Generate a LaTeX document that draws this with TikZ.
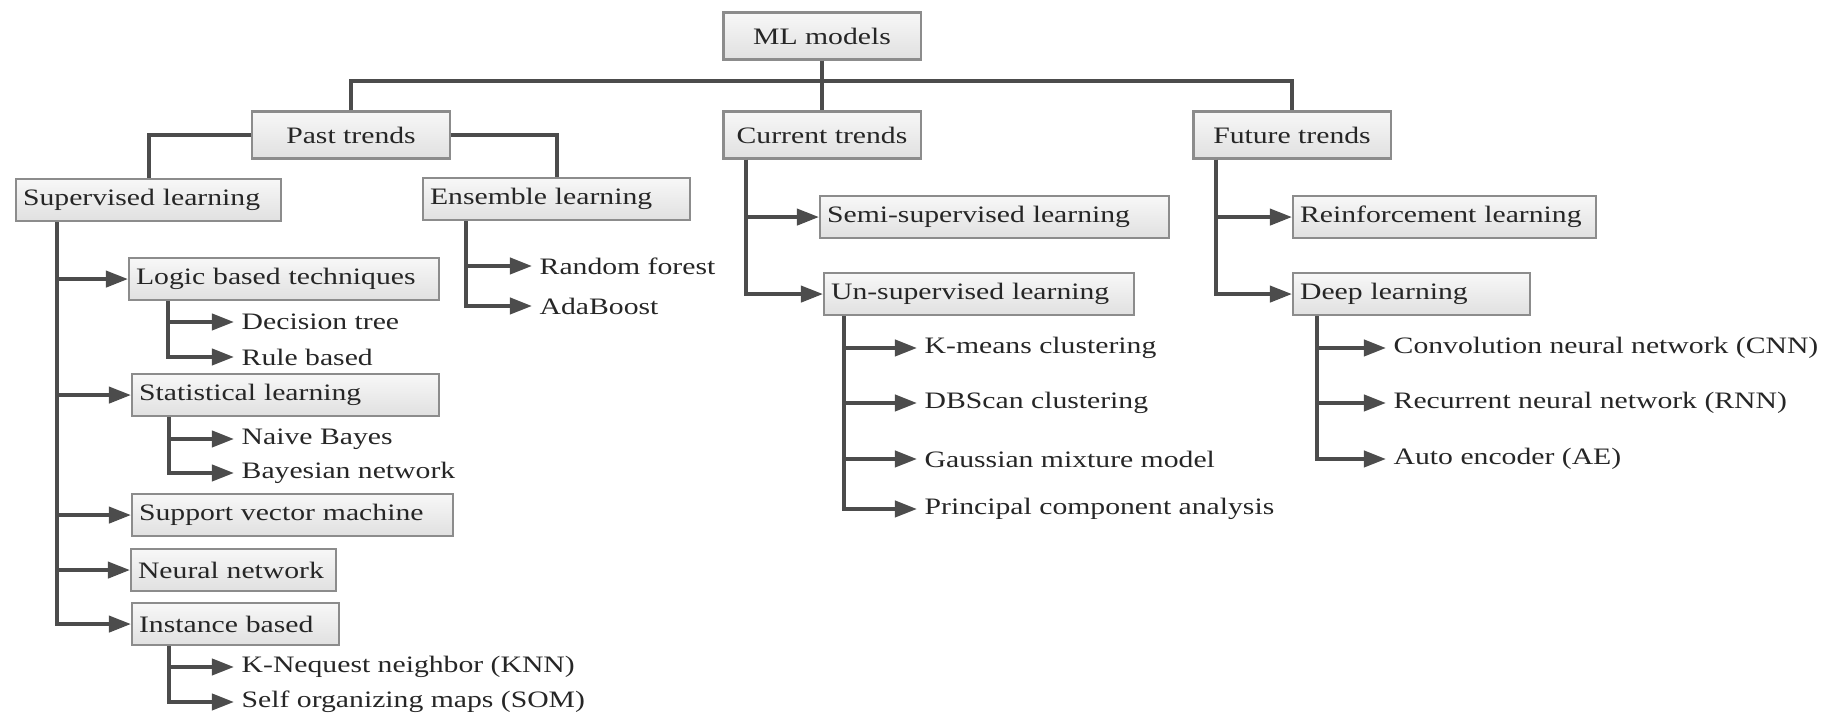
\documentclass[tikz,border=0pt]{standalone}
\usepackage{fontspec}
\setmainfont{Liberation Serif}[FakeStretch=1.26]
\usepackage{tikz}
\usetikzlibrary{shapes,arrows.meta,positioning}

\begin{document}
\begin{tikzpicture}[x=0.01cm,y=-0.01cm,>={Triangle[length=0.22cm,width=0.16cm]},font=\fontsize{6.7}{8}\selectfont,
  box/.style={draw=black!45,line width=0.6pt,top color=black!3,bottom color=black!12,text=black!85,inner xsep=0.07cm,inner ysep=0pt,minimum height=0.42cm},
  trend/.style={box,minimum width=1.97cm,minimum height=0.47cm},
  lbox/.style={box,anchor=north west,align=left,text width=#1},
  leaf/.style={anchor=west,inner xsep=0.07cm,text=black!85},
  link/.style={draw=black!70,line width=1.1pt}]
  \useasboundingbox (0,0) rectangle (1832,713);
  \node[trend] (ML) at (822,36) {ML models};
  \node[trend] (PT) at (351,135) {Past trends};
  \node[trend] (CT) at (822,135) {Current trends};
  \node[trend] (FT) at (1292,135) {Future trends};
  \node[lbox=2.51cm] (SL) at (15,178) {Supervised learning};
  \node[lbox=2.53cm] (EL) at (422,177) {Ensemble learning};
  \node[lbox=2.96cm] (LB) at (128,257) {Logic based techniques};
  \node[lbox=2.93cm] (ST) at (131,373) {Statistical learning};
  \node[lbox=3.07cm] (SV) at (131,493) {Support vector machine};
  \node[lbox=1.91cm] (NN) at (130,548) {Neural network};
  \node[lbox=1.93cm] (IB) at (131,602) {Instance based};
  \node[lbox=3.35cm] (SS) at (819,195) {Semi-supervised learning};
  \node[lbox=2.96cm] (US) at (823,272) {Un-supervised learning};
  \node[lbox=2.89cm] (RL) at (1292,195) {Reinforcement learning};
  \node[lbox=2.23cm] (DL) at (1292,272) {Deep learning};
  \node[leaf] (DT) at (234,322) {Decision tree};
  \node[leaf] (RB) at (234,357) {Rule based};
  \node[leaf] (NB) at (234,439) {Naive Bayes};
  \node[leaf] (BN) at (234,473) {Bayesian network};
  \node[leaf] (KNN) at (234,667) {K-Nequest neighbor (KNN)};
  \node[leaf] (SOM) at (234,702) {Self organizing maps (SOM)};
  \node[leaf] (RF) at (532,266) {Random forest};
  \node[leaf] (AB) at (532,306) {AdaBoost};
  \node[leaf] (KM) at (917,348) {K-means clustering};
  \node[leaf] (DB) at (917,403) {DBScan clustering};
  \node[leaf] (GM) at (917,459) {Gaussian mixture model};
  \node[leaf] (PC) at (917,509) {Principal component analysis};
  \node[leaf] (CNN) at (1386,348) {Convolution neural network (CNN)};
  \node[leaf] (RNN) at (1386,403) {Recurrent neural network (RNN)};
  \node[leaf] (AE) at (1386,459) {Auto encoder (AE)};
  \coordinate (B) at (822,81);
  \draw[link] (ML) -- (CT);
  \draw[link] (PT) |- (B) -| (FT);
  \draw[link] (PT) -| (SL);
  \draw[link] (PT) -| (EL);
  \foreach \n in {LB,ST,SV,NN,IB} \draw[link,->] ([xshift=4.2mm]SL.south west) |- (\n);
  \foreach \n in {DT,RB} \draw[link,->] ([xshift=4mm]LB.south west) |- (\n);
  \foreach \n in {NB,BN} \draw[link,->] ([xshift=3.8mm]ST.south west) |- (\n);
  \foreach \n in {KNN,SOM} \draw[link,->] ([xshift=3.8mm]IB.south west) |- (\n);
  \foreach \n in {RF,AB} \draw[link,->] ([xshift=4.4mm]EL.south west) |- (\n);
  \foreach \n in {SS,US} \draw[link,->] ([xshift=2.4mm]CT.south west) |- (\n);
  \foreach \n in {KM,DB,GM,PC} \draw[link,->] ([xshift=2.1mm]US.south west) |- (\n);
  \foreach \n in {RL,DL} \draw[link,->] ([xshift=2.4mm]FT.south west) |- (\n);
  \foreach \n in {CNN,RNN,AE} \draw[link,->] ([xshift=2.5mm]DL.south west) |- (\n);
\end{tikzpicture}
\end{document}
